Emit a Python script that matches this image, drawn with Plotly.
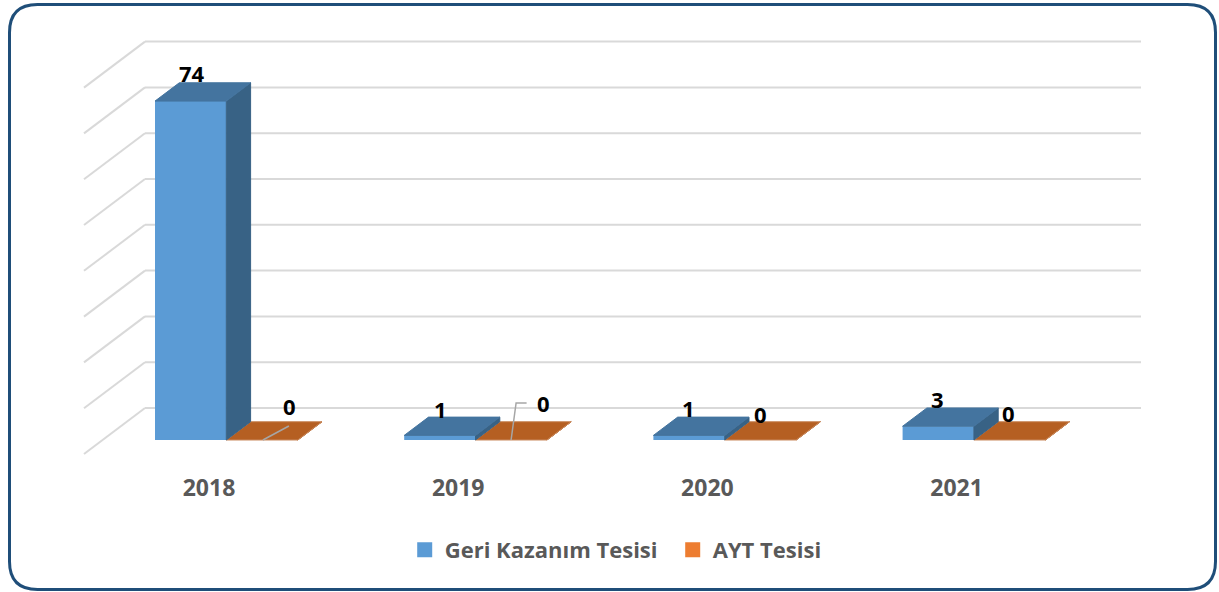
import plotly.graph_objects as go

# ---- data ----
years = [2018, 2019, 2020, 2021]
geri_kazanim = [74, 1, 1, 3]
ayt = [0, 0, 0, 0]
series_names = ["Geri Kazanım Tesisi", "AYT Tesisi"]
grid_values = [0, 10, 20, 30, 40, 50, 60, 70, 80]

# ---- layout geometry (pixels) ----
W, H = 1219, 592
L, R, T, B = 60, 1160, 20, 470      # plot area edges in page pixels
PX_X = 249.2                        # pixels per category
PX_Y = 4.58                         # pixels per unit of value
X0_PX, Y0_PX = 209, 440             # page pixel of (2018, 0)

x_range = [2018 + (L - X0_PX) / PX_X, 2018 + (R - X0_PX) / PX_X]
y_range = [(Y0_PX - B) / PX_Y, (Y0_PX - T) / PX_Y]

BAR_W = 71.3 / PX_X
OFF_A = -54 / PX_X
OFF_B = 17.4 / PX_X
DX, DY = 24.3 / PX_X, 18.3 / PX_Y    # bar depth
WALL_DX, WALL_DY = 61 / PX_X, 46 / PX_Y
WALL_Y0 = -14 / PX_Y                 # wall-floor front edge, below bar baseline
WALL_X_BACK = 2018 + (145 - X0_PX) / PX_X
WALL_X_END = 2018 + (1141 - X0_PX) / PX_X

FONT = "Open Sans"
GREY = "#595959"


def faces(values, offset):
    top_x, top_y, side_x, side_y = [], [], [], []
    for yr, v in zip(years, values):
        xl = yr + offset
        xr = xl + BAR_W
        top_x += [xl, xr, xr + DX, xl + DX, xl, None]
        top_y += [v, v, v + DY, v + DY, v, None]
        side_x += [xr, xr + DX, xr + DX, xr, xr, None]
        side_y += [0, DY, v + DY, v, 0, None]
    return top_x, top_y, side_x, side_y


def poly(x, y, color, line=None):
    return go.Scatter(x=x, y=y, mode="lines", fill="toself", fillcolor=color,
                      line=dict(color=line or color, width=1),
                      showlegend=False, hoverinfo="skip")


fig = go.Figure()

# front faces
fig.add_trace(go.Bar(x=years, y=ayt, width=BAR_W, offset=OFF_B, marker_color="#ED7D31",
                     marker_line_width=0, showlegend=False, name=series_names[1]))
fig.add_trace(go.Bar(x=years, y=geri_kazanim, width=BAR_W, offset=OFF_A, marker_color="#5B9BD5",
                     marker_line_width=0, showlegend=False, name=series_names[0]))

# 3-D faces
tx, ty, sx, sy = faces(ayt, OFF_B)
fig.add_trace(poly(sx, sy, "#B55F22"))
fig.add_trace(poly(tx, ty, "#B55F22", "#C98A5E"))
tx, ty, sx, sy = faces(geri_kazanim, OFF_A)
fig.add_trace(poly(sx, sy, "#386285"))
fig.add_trace(poly(tx, ty, "#44749F"))

# leader lines anchored on the AYT bars
LEADER = "#A6A6A6"
xa = years[0] + OFF_B
fig.add_trace(go.Scatter(x=[xa + 36.5 / PX_X, xa + 62.5 / PX_X], y=[ayt[0], ayt[0] + 14 / PX_Y],
                         mode="lines", line=dict(color=LEADER, width=1.5),
                         showlegend=False, hoverinfo="skip"))
xb = years[1] + OFF_B
fig.add_trace(go.Scatter(x=[xb + 35.5 / PX_X, xb + 40.5 / PX_X, xb + 51 / PX_X],
                         y=[ayt[1], ayt[1] + 37 / PX_Y, ayt[1] + 37 / PX_Y],
                         mode="lines", line=dict(color=LEADER, width=1.5),
                         showlegend=False, hoverinfo="skip"))

# legend entries
for name, col in zip(series_names, ["#5B9BD5", "#ED7D31"]):
    fig.add_trace(go.Scatter(x=[None], y=[None], mode="markers", name=name,
                             marker=dict(symbol="square", size=15, color=col, line_width=0)))

# wall grid lines
shapes = []
for g in grid_values:
    y_back = g + WALL_Y0 + WALL_DY
    y_front = g + WALL_Y0
    grid = dict(type="line", xref="x", yref="y", layer="below",
                line=dict(color="#D9D9D9", width=2))
    shapes.append(dict(grid, x0=WALL_X_BACK, x1=WALL_X_END, y0=y_back, y1=y_back))
    shapes.append(dict(grid, x0=WALL_X_BACK - WALL_DX, x1=WALL_X_BACK, y0=y_front, y1=y_back))


# rounded frame
def px(x):
    return (x - L) / (R - L)


def py(y):
    return 1 - (y - T) / (B - T)


fl, fr, ft, fb, rad = 9.5, 1215.5, 4.5, 589.5, 28
path = (f"M{px(fl + rad)},{py(ft)} L{px(fr - rad)},{py(ft)} Q{px(fr)},{py(ft)} {px(fr)},{py(ft + rad)} "
        f"L{px(fr)},{py(fb - rad)} Q{px(fr)},{py(fb)} {px(fr - rad)},{py(fb)} "
        f"L{px(fl + rad)},{py(fb)} Q{px(fl)},{py(fb)} {px(fl)},{py(fb - rad)} "
        f"L{px(fl)},{py(ft + rad)} Q{px(fl)},{py(ft)} {px(fl + rad)},{py(ft)} Z")
shapes.append(dict(type="path", xref="paper", yref="paper", path=path, layer="below",
                   line=dict(color="#1F4E79", width=3), fillcolor="white"))

# data labels, placed by their page pixel centres
annots = []
label_px = {
    "a": [(191.5, 73), (440, 409), (688, 408), (937, 399)],
    "b": [(289, 406), (543, 403), (760, 414), (1008, 413)],
}
for vals, key in ((geri_kazanim, "a"), (ayt, "b")):
    for yr, v, (lx, ly) in zip(years, vals, label_px[key]):
        bx = X0_PX + (yr - 2018) * PX_X
        by = Y0_PX - v * PX_Y
        annots.append(dict(x=yr, y=v, text=str(v), xref="x", yref="y", showarrow=False,
                           xanchor="center", yanchor="middle", xshift=lx - bx, yshift=by - ly,
                           font=dict(family=FONT, size=22, color="#000000", weight="bold")))

fig.update_layout(
    width=W, height=H, autosize=False,
    margin=dict(l=L, r=W - R, t=T, b=H - B, pad=0),
    paper_bgcolor="white", plot_bgcolor="rgba(0,0,0,0)",
    barmode="overlay", showlegend=True, hovermode=False,
    shapes=shapes, annotations=annots,
    font=dict(family=FONT),
    xaxis=dict(range=x_range, tickvals=years, ticktext=[str(y) for y in years],
               showgrid=False, zeroline=False, showline=False, ticks="", ticklabelstandoff=2,
               tickfont=dict(family=FONT, size=23, color=GREY, weight="bold")),
    yaxis=dict(range=y_range, visible=False, showgrid=False, zeroline=False),
    legend=dict(orientation="h", x=382 / W, xref="paper", xanchor="left", y=(H - 550) / H,
                yref="container", yanchor="middle", itemsizing="trace", traceorder="normal",
                entrywidth=223, entrywidthmode="pixels",
                bgcolor="rgba(0,0,0,0)", font=dict(family=FONT, size=22, color=GREY, weight="bold")),
)

fig.write_html("out.html", post_script="document.body.style.margin='0';document.body.style.overflow='hidden';",
               config={"displayModeBar": False})
